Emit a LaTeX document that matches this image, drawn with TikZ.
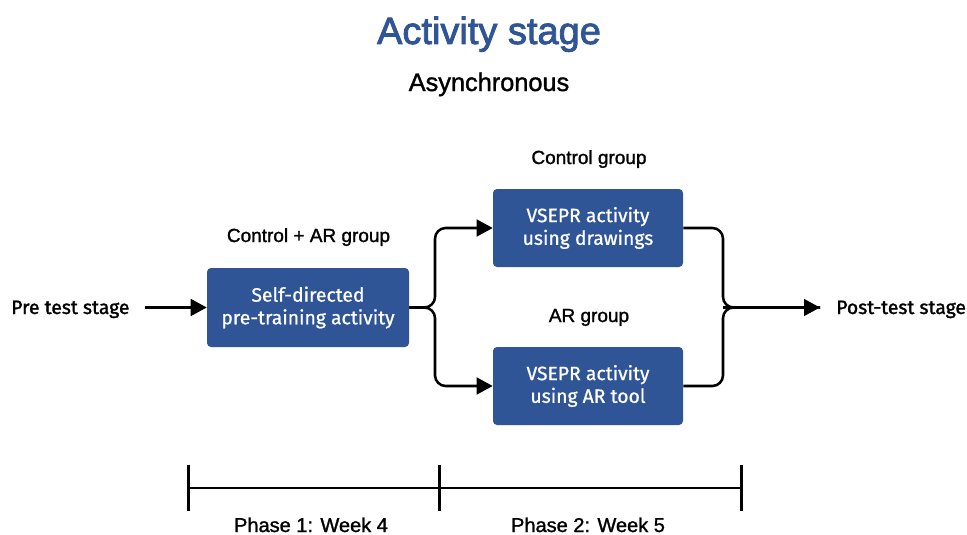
\documentclass[tikz,border=0pt]{standalone}
\usepackage{fontspec}
\setmainfont{Liberation Sans}
\newfontfamily\arialb[FakeBold=1.3]{Liberation Sans}
\newfontfamily\arialt[FakeBold=2.2]{Liberation Sans}
\newfontfamily\firab[FakeBold=1.5]{Fira Sans}
\newfontfamily\firaw[FakeBold=0.8]{Fira Sans}
\usetikzlibrary{arrows.meta}
\definecolor{boxblue}{HTML}{2F5597}
\begin{document}
\begin{tikzpicture}[x=0.75pt,y=-0.75pt,
  actbox/.style={draw=none,fill=boxblue,rounded corners=3pt,text=white,
    font=\firaw\fontsize{14.5pt}{17pt}\selectfont,align=center,inner sep=0pt},
  lab/.style={font=\arialb\fontsize{14.25pt}{17pt}\selectfont,anchor=base,inner sep=0pt},
  side/.style={font=\firab\fontsize{14.5pt}{18pt}\selectfont,inner sep=0pt},
  conn/.style={line width=1.9pt,rounded corners=8pt},
  arr/.style={conn,-{Triangle[length=12pt,width=12.5pt]}},
  tl/.style={line width=1.7pt}]
\useasboundingbox (0,0) rectangle (967,535);
% titles
\node[anchor=base,inner sep=0pt,text=boxblue,font=\arialt\fontsize{28.5pt}{32pt}\selectfont] (title) at (489,44) {Activity stage};
\node[anchor=base,inner sep=0pt,font=\arialb\fontsize{19pt}{22pt}\selectfont] (async) at (489,91) {Asynchronous};
% boxes
\node[actbox,minimum width=151.5pt,minimum height=59.25pt] (b1) at (308,307.5) {Self-directed\\pre-training activity};
\node[actbox,minimum width=142.5pt,minimum height=58.5pt] (b2) at (588,228) {VSEPR activity\\using drawings};
\node[actbox,minimum width=142.5pt,minimum height=58.5pt] (b3) at (588,386) {VSEPR activity\\using AR tool};
% group labels
\node[lab] (l1) at (308.5,242) {Control + AR group};
\node[lab] (l2) at (589,164) {Control group};
\node[lab] (l3) at (589,322) {AR group};
% side texts
\node[side,anchor=base west] (pre) at (11,314) {Pre test stage};
\node[side,anchor=base west] (post) at (836,314) {Post-test stage};
% connectors
\coordinate (prestart) at (145,307.5);
\draw[arr] (prestart) -- (b1.west);
\coordinate (sj) at (435,307.5);
\draw[arr] (b1.east) -- (sj) |- (b2.west);
\draw[arr] (b1.east) -- (sj) |- (b3.west);
\coordinate (mj) at (723,307.5);
\coordinate (postend) at (820,307.5);
\draw[conn] (b2.east) -| (mj) -- (postend);
\draw[conn] (b3.east) -| (mj) -- (postend);
\draw[arr,rounded corners=0pt] (mj) -- (postend);
% timeline
\coordinate (t1) at (188.5,488);
\coordinate (t2) at (439.5,488);
\coordinate (t3) at (741.5,488);
\draw[tl] (t1) -- (t3);
\foreach \t in {t1,t2,t3}{\draw[tl] ([yshift=17.6pt]\t) -- ([yshift=-17.6pt]\t);}
\node[anchor=base,inner sep=0pt,font=\arialb\fontsize{15pt}{18pt}\selectfont] (p1) at (311,532) {Phase 1: Week 4};
\node[anchor=base,inner sep=0pt,font=\arialb\fontsize{15pt}{18pt}\selectfont] (p2) at (588,532) {Phase 2: Week 5};
\end{tikzpicture}
\end{document}
